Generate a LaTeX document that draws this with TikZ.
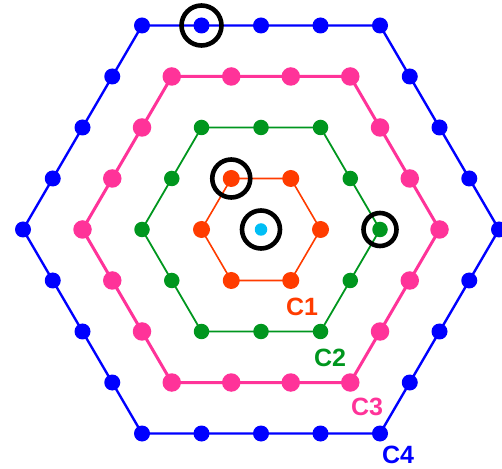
\documentclass[tikz,border=0pt]{standalone}
\usepackage{fontspec}
\setmainfont{Liberation Sans}
\usetikzlibrary{calc}
\definecolor{cblue}{RGB}{0,0,255}
\definecolor{cpink}{RGB}{255,51,153}
\definecolor{cgreen}{RGB}{0,150,30}
\definecolor{cred}{RGB}{255,60,0}
\definecolor{ccyan}{RGB}{0,190,245}
\begin{document}
\begin{tikzpicture}[x=1pt,y=1pt,
  dotnode/.style={circle,inner sep=0pt,minimum size=#1},
  hl/.style={circle,draw=black,line width=4.6pt,inner sep=0pt,minimum size=#1},
  lbl/.style={font=\bfseries\fontsize{25}{25}\selectfont,inner sep=0pt}]
\useasboundingbox (0,0) rectangle (502,468);
\begin{scope}[shift={(261,238.5)},x=59.5pt,y=51pt]
\foreach \k/\col/\lw/\r in {4/cblue/2.4pt/16pt,3/cpink/3pt/18.5pt,2/cgreen/1.8pt/15.5pt,1/cred/1.6pt/17pt}{
  \coordinate (v\k-0) at (\k,0);
  \coordinate (v\k-1) at (\k/2,\k);
  \coordinate (v\k-2) at (-\k/2,\k);
  \coordinate (v\k-3) at (-\k,0);
  \coordinate (v\k-4) at (-\k/2,-\k);
  \coordinate (v\k-5) at (\k/2,-\k);
  \draw[\col,line width=\lw,line join=round] (v\k-0) -- (v\k-1) -- (v\k-2) -- (v\k-3) -- (v\k-4) -- (v\k-5) -- cycle;
  \pgfmathtruncatemacro\km{\k-1}
  \foreach \i in {0,...,5}{
    \pgfmathtruncatemacro\nx{mod(\i+1,6)}
    \foreach \j in {0,...,\km}{
      \node[dotnode=\r,fill=\col] (d\k-\i-\j) at ($(v\k-\i)!{\j/\k}!(v\k-\nx)$) {};
    }
  }
}
\node[dotnode=12.5pt,fill=ccyan] (ctr) at (0,0) {};
\node[hl=38pt] (h0) at (ctr) {};
\node[hl=38pt] (h1) at (d1-2-0) {};
\node[hl=33pt] (h2) at (d2-0-0) {};
\node[hl=40pt] (h4) at (d4-1-3) {};
\end{scope}
\node[lbl,text=cred] (c1) at (302,161) {C1};
\node[lbl,text=cgreen] (c2) at (330,110) {C2};
\node[lbl,text=cpink] (c3) at (367,61.5) {C3};
\node[lbl,text=cblue] (c4) at (398,13) {C4};
\end{tikzpicture}
\end{document}
